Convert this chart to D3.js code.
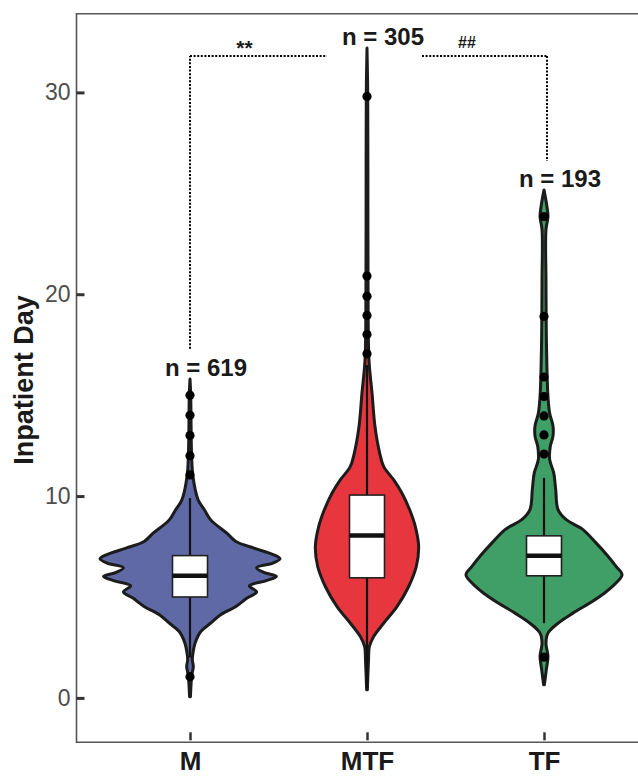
<!DOCTYPE html>
<html>
<head>
<meta charset="utf-8">
<script src="https://cdn.jsdelivr.net/npm/d3@7"></script>
<style>
  body { margin: 0; background: #fff; }
  text { font-family: "Liberation Sans", Arial, Helvetica, sans-serif; }
</style>
</head>
<body>
<script>
// groups and counts
var categories = ["M", "MTF", "TF"];
var counts = [619, 305, 193];

// box plot stats (days)
var q1 = [5.0, 5.95, 6.05];
var medians = [6.05, 8.05, 7.04];
var q3 = [7.05, 10.05, 8.03];
var whiskerLow = [2.0, 0.5, 3.7];
var whiskerHigh = [9.9, 16.5, 10.9];

// outliers
var outliersM = [15.0, 14.0, 13.0, 12.0, 11.05, 1.05];
var outliersMTF = [29.8, 20.9, 19.9, 18.95, 18.0, 17.05];
var outliersTF = [23.85, 18.9, 15.9, 14.93, 13.97, 13.03, 12.08, 2.02];

// violin profiles: [day, relative density]
var densityM = [[0.06, 0.005], [1.14, 0.02], [1.55, 0.037], [1.88, 0.026], [2.22, 0.033], [2.71, 0.056], [3.29, 0.12], [3.70, 0.23], [4.12, 0.34], [4.53, 0.51], [4.94, 0.63], [5.25, 0.74], [5.55, 0.66], [5.8, 0.84], [6.02, 0.96], [6.22, 0.82], [6.45, 0.74], [6.68, 0.92], [6.89, 1.0], [7.09, 0.93], [7.42, 0.71], [7.75, 0.51], [8.16, 0.41], [8.82, 0.23], [9.32, 0.16], [9.81, 0.09], [10.97, 0.033], [12.0, 0.018], [13.5, 0.012], [15.0, 0.008], [15.8, 0.0]];
var densityMTF = [[0.4, 0.004], [1.88, 0.017], [2.54, 0.026], [3.04, 0.074], [3.70, 0.185], [4.52, 0.333], [5.52, 0.463], [6.51, 0.548], [7.50, 0.574], [8.49, 0.537], [9.32, 0.474], [10.14, 0.389], [10.8, 0.297], [11.46, 0.186], [12.13, 0.141], [13.44, 0.089], [15.1, 0.056], [16.75, 0.022], [20.0, 0.012], [25.0, 0.01], [30.0, 0.008], [32.2, 0.0]];
var densityTF = [[0.65, 0.004], [1.4, 0.026], [2.05, 0.044], [2.71, 0.022], [3.21, 0.044], [3.7, 0.156], [4.2, 0.322], [4.7, 0.508], [5.2, 0.674], [5.69, 0.80], [6.1, 0.867], [6.52, 0.80], [7.02, 0.711], [7.68, 0.578], [8.34, 0.433], [8.84, 0.244], [9.33, 0.156], [10.32, 0.13], [11.15, 0.108], [11.81, 0.063], [12.47, 0.07], [12.97, 0.10], [13.47, 0.10], [14.1, 0.063], [14.93, 0.044], [17.4, 0.028], [20.7, 0.022], [23.2, 0.022], [23.85, 0.044], [24.34, 0.033], [25.17, 0.0]];

var yTicks = [0, 10, 20, 30];
var fills = ["#5f69a6", "#e8363f", "#3f9f66"];

var outliers = [outliersM, outliersMTF, outliersTF];
var densities = [densityM, densityMTF, densityTF];

var W = 638, H = 777;
var plot = { left: 76.5, top: 13.7, right: 640, bottom: 742.3 };

var svg = d3.select("body").append("svg").attr("width", W).attr("height", H);

var x = d3.scalePoint().domain(categories).range([plot.left + 113.5, plot.left + 467.5]);
var y = d3.scaleLinear().domain([-2.2, 33.9]).range([plot.bottom, plot.top]);
var w = d3.scaleLinear().domain([0, 1]).range([0, 90]);

// frame
svg.append("path")
  .attr("d", "M" + plot.right + "," + plot.top + "H" + plot.left + "V" + plot.bottom + "H" + plot.right)
  .attr("fill", "none").attr("stroke", "#555").attr("stroke-width", 1.6);

// axes
var yAxis = svg.append("g").attr("transform", "translate(" + plot.left + ",0)")
  .call(d3.axisLeft(y).tickValues(yTicks).tickSizeInner(-8).tickSizeOuter(0).tickPadding(6));
yAxis.select(".domain").remove();
yAxis.selectAll(".tick line").attr("stroke", "#333").attr("stroke-width", 3);
yAxis.selectAll(".tick text").attr("font-size", 23).attr("fill", "#4d4d4d")
  .style("font-family", "'Liberation Sans', Arial, sans-serif");

var xAxis = svg.append("g").attr("transform", "translate(0," + (plot.bottom - 2) + ")")
  .call(d3.axisBottom(x).tickSizeInner(-8).tickSizeOuter(0).tickPadding(11));
xAxis.select(".domain").remove();
xAxis.selectAll(".tick line").attr("stroke", "#333").attr("stroke-width", 2.5);
xAxis.selectAll(".tick text").attr("font-size", 26).attr("font-weight", "bold").attr("fill", "#1a1a1a")
  .style("font-family", "'Liberation Sans', Arial, sans-serif");

svg.append("text")
  .attr("transform", "translate(33," + ((plot.top + plot.bottom) / 2 + 2) + ") rotate(-90)")
  .attr("text-anchor", "middle")
  .attr("font-size", 27).attr("font-weight", "bold").attr("fill", "#1a1a1a")
  .text("Inpatient Day");

// violins
categories.forEach(function (c, i) {
  var cx = x(c);
  var g = svg.append("g");
  var area = d3.area()
    .y(function (d) { return y(d[0]); })
    .x0(function (d) { return cx - w(d[1]); })
    .x1(function (d) { return cx + w(d[1]); })
    .curve(d3.curveCatmullRom.alpha(0.5));
  g.append("path").datum(densities[i]).attr("d", area)
    .attr("fill", fills[i]).attr("stroke", "#1c1c1c").attr("stroke-width", 3)
    .attr("stroke-linejoin", "round");

  // whisker
  g.append("line").attr("x1", cx).attr("x2", cx)
    .attr("y1", y(whiskerLow[i])).attr("y2", y(whiskerHigh[i]))
    .attr("stroke", "#111").attr("stroke-width", 2.2);
  // box
  g.append("rect").attr("x", cx - 17.5).attr("width", 35)
    .attr("y", y(q3[i])).attr("height", y(q1[i]) - y(q3[i]))
    .attr("fill", "#fff").attr("stroke", "#222").attr("stroke-width", 1.6);
  g.append("line").attr("x1", cx - 17.5).attr("x2", cx + 17.5)
    .attr("y1", y(medians[i])).attr("y2", y(medians[i]))
    .attr("stroke", "#111").attr("stroke-width", 4.5);
  // outliers
  g.selectAll("circle").data(outliers[i]).enter().append("circle")
    .attr("cx", cx).attr("cy", function (d) { return y(d); }).attr("r", 4.6)
    .attr("fill", "#000");

  // n label
  var top = d3.max(densities[i], function (d) { return d[0]; });
  svg.append("text").attr("x", cx + 16).attr("y", y(top) - 3)
    .attr("text-anchor", "middle").attr("font-size", 24).attr("font-weight", "bold")
    .attr("fill", "#1a1a1a").text("n = " + counts[i]);
});

// significance brackets
var by = y(31.8);
function dline(x1, y1, x2, y2) {
  svg.append("line").attr("x1", x1).attr("y1", y1).attr("x2", x2).attr("y2", y2)
    .attr("stroke", "#000").attr("stroke-width", 2)
    .attr("stroke-dasharray", "2,1.6");
}
dline(x("M"), y(17.3), x("M"), by);
dline(x("M"), by, x("MTF") - 40, by);
dline(x("MTF") + 55, by, x("TF") + 3, by);
dline(x("TF") + 3, by, x("TF") + 3, y(26.6));

svg.append("text").attr("x", (x("M") + x("MTF") - 40) / 2 - 14).attr("y", by - 1)
  .attr("text-anchor", "middle").attr("font-size", 21).attr("font-weight", "bold")
  .attr("fill", "#1a1a1a").text("**");
svg.append("text").attr("x", (x("MTF") + 55 + x("TF")) / 2 - 16).attr("y", by - 8)
  .attr("text-anchor", "middle").attr("font-size", 16).attr("font-weight", "bold")
  .attr("fill", "#1a1a1a").text("##");
</script>
</body>
</html>
